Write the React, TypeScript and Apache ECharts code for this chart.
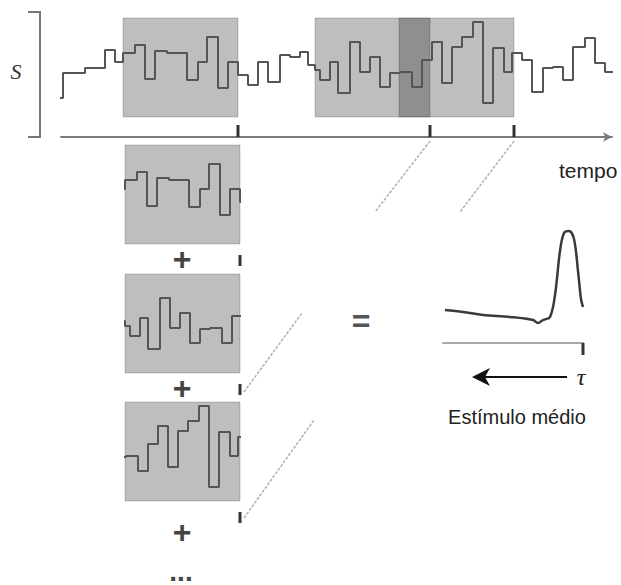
import React, { useEffect, useRef } from "react";
import * as echarts from "echarts";

// Stimulus s(t): step edges (time units) and the level held between consecutive edges
const stimEdges = [-8, 2, 24, 44, 54, 62, 74, 84, 94, 106, 126, 137, 146, 157, 167, 177, 187, 197, 207, 219, 229, 239, 247, 254, 259, 269, 277, 289, 299, 309, 319, 329, 339, 351, 361, 371, 381, 391, 401, 412, 422, 432, 443, 451, 461, 471, 482, 492, 502, 512, 524, 534, 544, 554, 560];
const stimLevels = [22, 47, 52, 70, 58, 67, 75, 41, 69, 67, 40, 58, 83, 32, 58, 45, 35, 58, 38, 65, 63, 68, 55, 50, 40, 58, 27, 78, 48, 63, 33, 47, 48, 33, 60, 78, 37, 73, 83, 98, 17, 72, 48, 67, 60, 28, 52, 53, 40, 73, 82, 57, 48, 70];

// Spike times and the stimulus window preceding each spike
const spikeTimes = [177, 369, 453];
const windowLength = 115;
const snippetSpikes = [177, 369, 453];

// Average stimulus (spike-triggered average) against tau (time before spike)
const staTau = [138, 120, 100, 73, 50, 45, 40, 33, 28, 23, 19, 14, 9, 5, 2, 0];
const staValue = [33, 31, 28, 26, 23, 20, 23, 26, 48, 92, 110, 112, 104, 72, 44, 36];

const TRACE = "#555555";
const BOX_FILL = "rgba(20,20,20,0.28)";
const BOX_STROKE = "rgba(0,0,0,0.18)";

function stepPoints(a: number, b: number): number[][] {
  const pts: number[][] = [];
  for (let i = 0; i < stimLevels.length; i++) {
    const s = Math.max(stimEdges[i], a);
    const e = Math.min(stimEdges[i + 1], b);
    if (e <= s) continue;
    pts.push([s, stimLevels[i]]);
    pts.push([e, stimLevels[i]]);
  }
  return pts;
}

const boxItem = (_p: any, api: any) => {
  const a = api.coord([api.value(0), 102]);
  const b = api.coord([api.value(1), 3]);
  return {
    type: "rect",
    shape: { x: a[0], y: a[1], width: b[0] - a[0], height: b[1] - a[1] },
    style: { fill: BOX_FILL, stroke: BOX_STROKE, lineWidth: 1 },
  };
};

const tickItem = (base: number, len: number) => (_p: any, api: any) => {
  const p = api.coord([api.value(0), base]);
  return {
    type: "line",
    shape: { x1: p[0], y1: p[1], x2: p[0], y2: p[1] + len },
    style: { stroke: "#333", lineWidth: 3 },
  };
};

function buildOption() {
  const grids: any[] = [{ left: 61, top: 0, width: 551, height: 137 }];
  const xAxes: any[] = [
    {
      gridIndex: 0, type: "value", min: 0, max: 551,
      axisLine: { show: true, onZero: false, symbol: ["none", "arrow"], symbolSize: [7, 9], lineStyle: { color: "#7a7a7a", width: 2 } },
      axisTick: { show: false }, axisLabel: { show: false }, splitLine: { show: false },
    },
  ];
  const yAxes: any[] = [{ gridIndex: 0, type: "value", min: -17, max: 120, show: false }];
  const series: any[] = [
    { type: "custom", xAxisIndex: 0, yAxisIndex: 0, z: 1, renderItem: boxItem, data: spikeTimes.map((t) => [t - windowLength, t]) },
    { type: "line", xAxisIndex: 0, yAxisIndex: 0, z: 3, clip: false, showSymbol: false, symbol: "none", lineStyle: { color: TRACE, width: 2 }, data: stepPoints(stimEdges[0], stimEdges[stimEdges.length - 1]) },
    { type: "custom", xAxisIndex: 0, yAxisIndex: 0, z: 3, renderItem: tickItem(-17, -12), data: spikeTimes.map((t) => [t, 0]) },
  ];

  const snippetTops = [127, 256, 384];
  snippetSpikes.forEach((sp, k) => {
    const gi = k + 1;
    grids.push({ left: 125, top: snippetTops[k], width: 115, height: 137 });
    xAxes.push({ gridIndex: gi, type: "value", min: sp - windowLength, max: sp, show: false });
    yAxes.push({ gridIndex: gi, type: "value", min: -17, max: 120, show: false });
    series.push(
      { type: "custom", xAxisIndex: gi, yAxisIndex: gi, z: 1, renderItem: boxItem, data: [[sp - windowLength, sp]] },
      { type: "line", xAxisIndex: gi, yAxisIndex: gi, z: 3, clip: false, showSymbol: false, symbol: "none", lineStyle: { color: TRACE, width: 2 }, data: stepPoints(sp - windowLength - 8, sp + 8) },
      { type: "custom", xAxisIndex: gi, yAxisIndex: gi, z: 3, renderItem: tickItem(-8, 11), data: [[sp, 0]] }
    );
  });

  // average stimulus panel
  const gs = grids.length;
  grids.push({ left: 443, top: 220, width: 140, height: 123 });
  xAxes.push({
    gridIndex: gs, type: "value", min: 0, max: 140, inverse: true,
    axisLine: { show: true, onZero: false, lineStyle: { color: "#a8a8a8", width: 2 } },
    axisTick: { show: false }, axisLabel: { show: false }, splitLine: { show: false },
  });
  yAxes.push({ gridIndex: gs, type: "value", min: 0, max: 123, show: false });
  series.push(
    { type: "line", xAxisIndex: gs, yAxisIndex: gs, z: 3, clip: false, smooth: 0.35, showSymbol: false, symbol: "none", lineStyle: { color: "#3a3a3a", width: 2.5 }, data: staTau.map((t, i) => [t, staValue[i]]) },
    { type: "custom", xAxisIndex: gs, yAxisIndex: gs, z: 3, renderItem: tickItem(0, 12), data: [[0, 0]] }
  );

  const dashed = (x1: number, y1: number, x2: number, y2: number) => ({
    type: "line", shape: { x1, y1, x2, y2 },
    style: { stroke: "#b0b0b0", lineWidth: 1.5, lineDash: [3, 1.5] },
  });

  const graphic: any[] = [
    { type: "polyline", shape: { points: [[28, 12], [40, 12], [40, 137], [28, 137]] }, style: { stroke: "#777", lineWidth: 2, fill: null } },
    { type: "text", x: 16, y: 71, style: { text: "S", font: "italic 22px 'Liberation Serif'", fill: "#333", textAlign: "center", textVerticalAlign: "middle" } },
    { type: "text", x: 559, y: 170, style: { text: "tempo", font: "21px 'Liberation Sans'", fill: "#222", textAlign: "left", textVerticalAlign: "middle" } },
    dashed(430, 141, 375, 212),
    dashed(514, 141, 460, 212),
    dashed(244, 392, 302, 313),
    dashed(244, 518, 314, 420),
    { type: "text", x: 182, y: 259, style: { text: "+", font: "bold 32px 'Liberation Sans'", fill: "#444", textAlign: "center", textVerticalAlign: "middle" } },
    { type: "text", x: 182, y: 388, style: { text: "+", font: "bold 32px 'Liberation Sans'", fill: "#444", textAlign: "center", textVerticalAlign: "middle" } },
    { type: "text", x: 182, y: 532, style: { text: "+", font: "bold 32px 'Liberation Sans'", fill: "#444", textAlign: "center", textVerticalAlign: "middle" } },
    { type: "text", x: 181, y: 585, style: { text: "...", font: "bold 28px 'Liberation Sans'", fill: "#444", textAlign: "center", textVerticalAlign: "bottom" } },
    { type: "text", x: 361, y: 321, style: { text: "=", font: "bold 32px 'Liberation Sans'", fill: "#555", textAlign: "center", textVerticalAlign: "middle" } },
    { type: "line", shape: { x1: 567, y1: 377, x2: 484, y2: 377 }, style: { stroke: "#111", lineWidth: 2 } },
    { type: "polygon", shape: { points: [[472, 377], [490, 368], [485, 377], [490, 386]] }, style: { fill: "#111" } },
    { type: "text", x: 581, y: 377, style: { text: "τ", font: "italic 24px 'Liberation Serif'", fill: "#222", textAlign: "center", textVerticalAlign: "middle" } },
    { type: "text", x: 517, y: 417, style: { text: "Estímulo médio", font: "20px 'Liberation Sans'", fill: "#222", textAlign: "center", textVerticalAlign: "middle" } },
  ];

  return { animation: false, backgroundColor: "#ffffff", grid: grids, xAxis: xAxes, yAxis: yAxes, series, graphic };
}

export default function App() {
  const ref = useRef<HTMLDivElement>(null);
  useEffect(() => {
    if (!ref.current) return;
    const chart = echarts.init(ref.current, undefined, { renderer: "svg" });
    chart.setOption(buildOption() as any);
    return () => chart.dispose();
  }, []);
  return <div ref={ref} style={{ position: "absolute", left: 0, top: 0, width: 621, height: 585 }} />;
}
